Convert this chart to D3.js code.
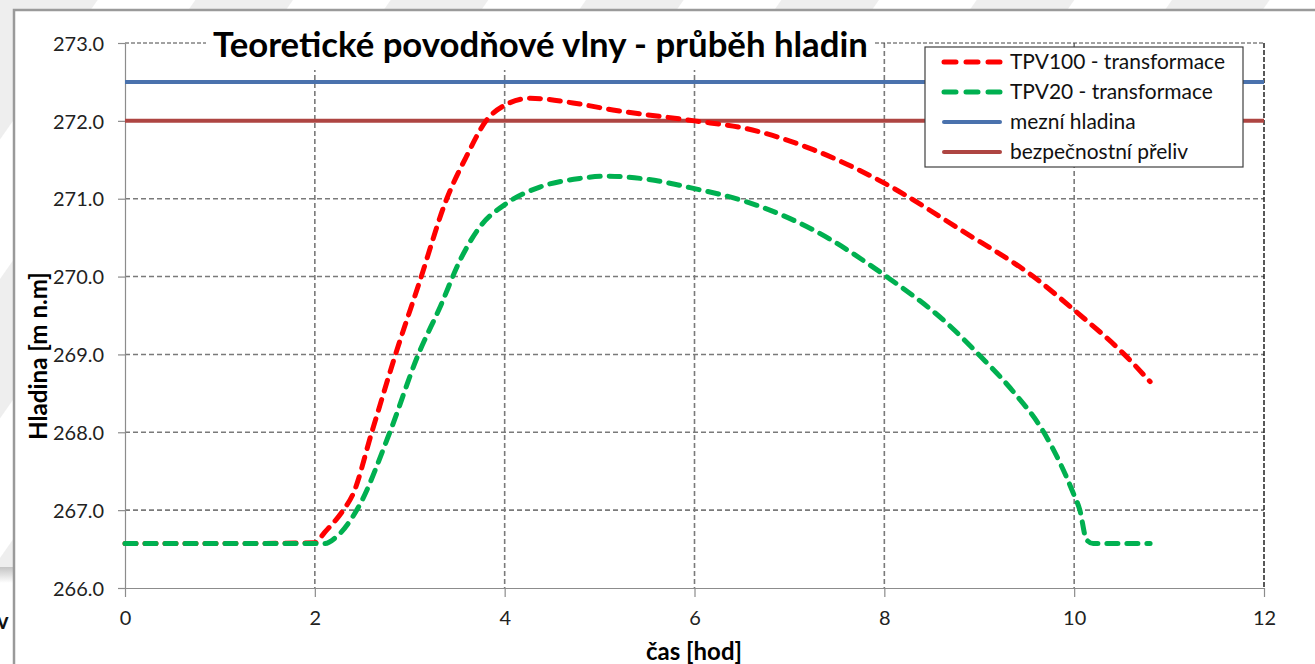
<!DOCTYPE html>
<html>
<head>
<meta charset="utf-8">
<script src="https://cdn.jsdelivr.net/npm/d3@7"></script>
<style>
  html, body { margin: 0; padding: 0; background: #fff; }
  svg { display: block; }
</style>
</head>
<body>
<svg id="chart" width="1315" height="664"></svg>
<script>
// ---------------- DATA ----------------
const chartTitle = "Teoretické povodňové vlny - průběh hladin";
const xAxisTitle = "čas [hod]";
const yAxisTitle = "Hladina [m n.m]";

const seriesNames = ["TPV100 - transformace", "TPV20 - transformace", "mezní hladina", "bezpečnostní přeliv"];

const hoursTPV100 = [0, 1, 2.0, 2.1, 2.3, 2.4, 2.6, 2.85, 3.1, 3.39, 3.6, 3.81, 4.0, 4.27, 4.72, 5.14, 6.0, 6.55, 7.25, 8.0, 8.83, 9.57, 10.0, 10.52, 10.8];
const levelTPV100 = [266.57, 266.57, 266.58, 266.71, 267.0, 267.2, 268.0, 269.0, 269.92, 271.0, 271.55, 272.01, 272.2, 272.29, 272.23, 272.14, 272.0, 271.9, 271.63, 271.2, 270.58, 270.0, 269.57, 269.01, 268.65];

const hoursTPV20 = [0, 1, 2.1, 2.23, 2.46, 2.79, 3.09, 3.32, 3.53, 3.74, 4.02, 4.37, 4.79, 5.08, 5.5, 6.0, 6.55, 7.25, 8.0, 8.66, 9.01, 9.36, 9.68, 9.99, 10.06, 10.13, 10.2, 10.8];
const levelTPV20 = [266.57, 266.57, 266.57, 266.66, 267.04, 268.0, 269.0, 269.61, 270.21, 270.64, 270.94, 271.15, 271.26, 271.29, 271.25, 271.13, 270.96, 270.6, 270.02, 269.4, 268.98, 268.52, 268.0, 267.22, 267.0, 266.62, 266.57, 266.57];

const limitHours = [0, 12];
const limitLevel = [272.5, 272.5];   // mezní hladina
const spillHours = [0, 12];
const spillLevel = [272.0, 272.0];   // bezpečnostní přeliv

const xTicks = [0, 2, 4, 6, 8, 10, 12];
const yTicks = [266, 267, 268, 269, 270, 271, 272, 273];

// ---------------- LAYOUT ----------------
const svg = d3.select("#chart");
const W = 1315, H = 664;
const plot = { left: 125, right: 1264, top: 43, bottom: 588 };

const x = d3.scaleLinear().domain([0, 12]).range([plot.left, plot.right]);
const y = d3.scaleLinear().domain([266, 273]).range([plot.bottom, plot.top]);

const colors = { red: "#ff0000", green: "#00b050", blue: "#4a72ad", brown: "#ae4542" };
const font = "Lato, 'Open Sans', sans-serif";

function fitWidth(sel, target) {
  const node = sel.node();
  const fs = parseFloat(sel.attr("font-size"));
  const w = node.getComputedTextLength();
  const nfs = fs * target / w;
  sel.attr("font-size", nfs);
  return nfs;
}

// ---------------- BACKGROUND (screenshot surroundings) ----------------
const defs = svg.append("defs");
const pat = defs.append("pattern")
  .attr("id", "stripes").attr("patternUnits", "userSpaceOnUse")
  .attr("width", 160).attr("height", 160)
  .attr("patternTransform", "rotate(35)");
pat.append("rect").attr("width", 160).attr("height", 160).attr("fill", "#ffffff");
pat.append("rect").attr("width", 80).attr("height", 160).attr("fill", "#eeeeee");

svg.append("rect").attr("x", 0).attr("y", 0).attr("width", W).attr("height", H).attr("fill", "url(#stripes)");

const grad = defs.append("linearGradient").attr("id", "band").attr("x1", 0).attr("y1", 0).attr("x2", 0).attr("y2", 1);
grad.append("stop").attr("offset", "0%").attr("stop-color", "#c4c4c4");
grad.append("stop").attr("offset", "100%").attr("stop-color", "#ffffff");
svg.append("rect").attr("x", 0).attr("y", 567).attr("width", 14).attr("height", 97).attr("fill", "#ffffff");
svg.append("rect").attr("x", 0).attr("y", 567).attr("width", 14).attr("height", 16).attr("fill", "url(#band)");
svg.append("text").attr("x", -3).attr("y", 629).attr("font-family", font).attr("font-weight", "bold")
  .attr("font-size", 22).attr("fill", "#111").text("v");

// chart area (white) with frame
svg.append("rect").attr("x", 14).attr("y", 10).attr("width", W - 14).attr("height", H - 10).attr("fill", "#ffffff");
svg.append("path").attr("d", `M14,${H} V10 H${W}`).attr("fill", "none").attr("stroke", "#9a9a9a").attr("stroke-width", 2.5);

// ---------------- GRID ----------------
const grid = svg.append("g");
grid.selectAll("line.hg").data(yTicks.filter(v => v > 266 && v < 273)).join("line")
  .attr("x1", plot.left).attr("x2", plot.right)
  .attr("y1", d => y(d)).attr("y2", d => y(d))
  .attr("stroke", "#7a7a7a").attr("stroke-width", 1.6).attr("stroke-dasharray", "5,3");
grid.selectAll("line.vg").data(xTicks.filter(v => v > 0 && v < 12)).join("line")
  .attr("y1", plot.top).attr("y2", plot.bottom)
  .attr("x1", d => x(d)).attr("x2", d => x(d))
  .attr("stroke", "#7a7a7a").attr("stroke-width", 1.6).attr("stroke-dasharray", "5,3");
// top and right border (dark dashed)
grid.append("line").attr("x1", plot.left).attr("x2", plot.right).attr("y1", y(273)).attr("y2", y(273))
  .attr("stroke", "#444").attr("stroke-width", 1).attr("stroke-dasharray", "4,2");
grid.append("line").attr("x1", x(12)).attr("x2", x(12)).attr("y1", plot.top).attr("y2", plot.bottom)
  .attr("stroke", "#222").attr("stroke-width", 1.5).attr("stroke-dasharray", "5,2");

// ---------------- AXES ----------------
const yAxis = d3.axisLeft(y).tickValues(yTicks).tickFormat(d3.format(".1f")).tickSize(7).tickSizeOuter(0).tickPadding(14);
const xAxis = d3.axisBottom(x).tickValues(xTicks).tickFormat(d3.format("d")).tickSize(9).tickSizeOuter(0).tickPadding(12);

const gy = svg.append("g").attr("transform", `translate(${plot.left},0)`).call(yAxis);
const gx = svg.append("g").attr("transform", `translate(0,${plot.bottom})`).call(xAxis);
[gy, gx].forEach(g => {
  g.select(".domain").attr("stroke", "#8c8c8c").attr("stroke-width", 1.2);
  g.selectAll(".tick line").attr("stroke", "#8c8c8c").attr("stroke-width", 1.2);
  g.selectAll(".tick text").attr("fill", "#222").attr("font-family", font).attr("font-size", 19);
});
const probe = gy.selectAll(".tick text").filter(d => d === 273);
const tickFs = fitWidth(probe, 51);
gy.selectAll(".tick text").attr("font-size", tickFs).attr("dy", "0.36em");
gx.selectAll(".tick text").attr("font-size", tickFs).attr("dy", "0.78em");

// ---------------- SERIES ----------------
const line = d3.line().x(d => x(d[0])).y(d => y(d[1])).curve(d3.curveMonotoneX);
const straight = d3.line().x(d => x(d[0])).y(d => y(d[1]));

const ser = svg.append("g");
ser.append("path").datum(d3.zip(limitHours, limitLevel)).attr("d", straight)
  .attr("fill", "none").attr("stroke", colors.blue).attr("stroke-width", 4);
ser.append("path").datum(d3.zip(spillHours, spillLevel)).attr("d", straight)
  .attr("fill", "none").attr("stroke", colors.brown).attr("stroke-width", 4);
ser.append("path").datum(d3.zip(hoursTPV100, levelTPV100)).attr("d", line)
  .attr("fill", "none").attr("stroke", colors.red).attr("stroke-width", 5)
  .attr("stroke-dasharray", "11,9").attr("stroke-linecap", "round").attr("stroke-linejoin", "round");
ser.append("path").datum(d3.zip(hoursTPV20, levelTPV20)).attr("d", line)
  .attr("fill", "none").attr("stroke", colors.green).attr("stroke-width", 5)
  .attr("stroke-dasharray", "11,9").attr("stroke-linecap", "round").attr("stroke-linejoin", "round");

// ---------------- TITLE ----------------
svg.append("rect").attr("x", 206).attr("y", 28).attr("width", 668).attr("height", 42).attr("fill", "#fff");
const title = svg.append("text").attr("x", 213).attr("y", 57)
  .attr("font-family", font).attr("font-weight", "bold").attr("font-size", 28).attr("fill", "#000")
  .text(chartTitle);
fitWidth(title, 655);

// ---------------- AXIS TITLES ----------------
const xt = svg.append("text").attr("x", 694).attr("y", 660).attr("text-anchor", "middle")
  .attr("font-family", font).attr("font-weight", "bold").attr("font-size", 22).attr("fill", "#000")
  .text(xAxisTitle);
fitWidth(xt, 96);
const yt = svg.append("text").attr("transform", "translate(47,356) rotate(-90)").attr("text-anchor", "middle")
  .attr("font-family", font).attr("font-weight", "bold").attr("font-size", 22).attr("fill", "#000")
  .text(yAxisTitle);
fitWidth(yt, 168);

// ---------------- LEGEND ----------------
const lg = svg.append("g");
lg.append("rect").attr("x", 925).attr("y", 47).attr("width", 318).attr("height", 120)
  .attr("fill", "#fff").attr("stroke", "#404040").attr("stroke-width", 1.2);
const legendItems = [
  { name: seriesNames[0], color: colors.red, dash: true },
  { name: seriesNames[1], color: colors.green, dash: true },
  { name: seriesNames[2], color: colors.blue, dash: false },
  { name: seriesNames[3], color: colors.brown, dash: false }
];
const rowY = d3.scaleLinear().domain([0, 3]).range([62, 152]);
const rows = lg.selectAll("g.row").data(legendItems).join("g").attr("class", "row")
  .attr("transform", (d, i) => `translate(0,${rowY(i)})`);
rows.append("line").attr("x1", 944).attr("x2", 1000)
  .attr("y1", 0).attr("y2", 0)
  .attr("stroke", d => d.color).attr("stroke-width", d => d.dash ? 5 : 4)
  .attr("stroke-linecap", "round")
  .attr("stroke-dasharray", d => d.dash ? "12,10" : null);
const ltexts = rows.append("text").attr("x", 1010).attr("y", 7)
  .attr("font-family", font).attr("font-size", 20).attr("fill", "#111")
  .text(d => d.name);
const lfs = fitWidth(ltexts.filter((d, i) => i === 0), 215);
ltexts.attr("font-size", lfs);
</script>
</body>
</html>
